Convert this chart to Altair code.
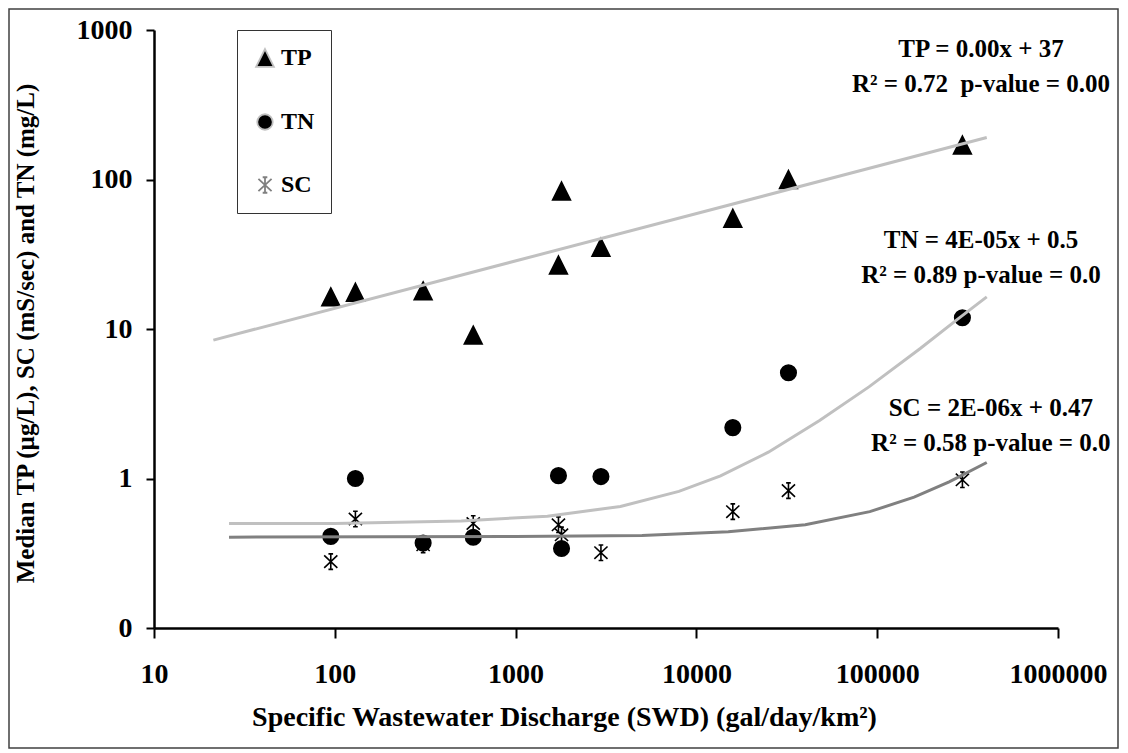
import altair as alt
import pandas as pd

# ---- data ----
series = ["TP", "TN", "SC"]
swd = [95, 130, 308, 583, 1726, 1795, 2965, 15900, 32300, 296000]
tp = [16.4, 17.6, 18.0, 9.1, 26.8, 83.8, 35.2, 55, 100, 170]
tn = [0.41, 1.0, 0.37, 0.405, 1.045, 0.34, 1.03, 2.19, 5.1, 11.9]
sc = [0.278, 0.536, 0.36, 0.50, 0.49, 0.42, 0.319, 0.60, 0.83, 0.98]

# trend lines
tp_fit_x = [21.3, 403600]
tp_fit_y = [8.43, 191]
tn_fit_x = [26, 100, 500, 1500, 3800, 8000, 13600, 25000, 48000, 90000, 173000, 280000, 403600]
tn_fit_y = [0.50, 0.50, 0.52, 0.56, 0.65, 0.82, 1.04, 1.5, 2.44, 4.1, 7.4, 11.7, 16.4]
sc_fit_x = [26, 1000, 5000, 15000, 40000, 91000, 160000, 250000, 403600]
sc_fit_y = [0.405, 0.41, 0.415, 0.44, 0.49, 0.60, 0.75, 0.95, 1.28]

notes = [
    "TP = 0.00x + 37\nR\u00b2 = 0.72\u00a0\u00a0p-value = 0.00",
    "TN = 4E-05x + 0.5\nR\u00b2 = 0.89 p-value = 0.0",
    "SC = 2E-06x + 0.47\nR\u00b2 = 0.58 p-value = 0.0",
]
note_x = [375000, 375000, 425000]
note_y = [747, 39.4, 2.97]

x_ticks = [10, 100, 1000, 10000, 100000, 1000000]
y_ticks = [0.1, 1, 10, 100, 1000]

# ---- tables ----
pts = pd.DataFrame({
    "swd": swd * 3,
    "val": tp + tn + sc,
    "series": ["TP"] * len(tp) + ["TN"] * len(tn) + ["SC"] * len(sc),
})
fits = pd.DataFrame({
    "swd": tp_fit_x + tn_fit_x + sc_fit_x,
    "val": tp_fit_y + tn_fit_y + sc_fit_y,
    "series": ["TP"] * len(tp_fit_x) + ["TN"] * len(tn_fit_x) + ["SC"] * len(sc_fit_x),
})
ann = pd.DataFrame({"swd": note_x, "val": note_y, "txt": notes})

FONT = "Liberation Serif"
TRI = "M0,-1.15L1.15,1.15L-1.15,1.15Z"
STAR = "M0,-1L0,1M-0.85,-0.8L0.85,0.8M-0.85,0.8L0.85,-0.8M-0.3,-1L0.3,-1M-0.3,1L0.3,1"

xscale = alt.Scale(type="log", domain=[10, 1000000], nice=False)
yscale = alt.Scale(type="log", domain=[0.1, 1000], nice=False)

x_enc = alt.X("swd:Q", scale=xscale, axis=alt.Axis(
    values=x_ticks, format="d", grid=False,
    title="Specific Wastewater Discharge (SWD) (gal/day/km\u00b2)",
    titleX=410, titleY=89, titleBaseline="middle", titleAlign="center", titleFontSize=28,
    labelPadding=22, tickSize=10, labelFlush=False, labelOverlap=False,
))
y_enc = alt.Y("val:Q", scale=yscale, axis=alt.Axis(
    values=y_ticks, format="d", grid=False,
    title="Median TP (\u00b5g/L), SC (mS/sec) and TN (mg/L)",
    titleX=-129, titleY=303, titleAngle=270, titleBaseline="middle", titleAlign="center",
    titleFontSize=25,
    labelPadding=14, tickSize=8, labelFlush=False, labelOverlap=False,
))

frame = alt.Chart(pd.DataFrame({"k": [0]})).mark_rect(
    fill="transparent", stroke="#404040", strokeWidth=1.5
).encode(x=alt.value(-145), x2=alt.value(964), y=alt.value(-21), y2=alt.value(718))

points = alt.Chart(pts).mark_point(
    filled=True, fill="black", stroke="black", strokeWidth=1.6, opacity=1, size=240
).encode(
    x=x_enc, y=y_enc,
    shape=alt.Shape("series:N", scale=alt.Scale(domain=series, range=[TRI, "circle", STAR]),
                    legend=alt.Legend(
                        title=None, orient="none", legendX=83, legendY=0,
                        strokeColor="#333333", padding=16, rowPadding=39,
                        labelFont=FONT, labelFontSize=24, labelFontWeight="bold",
                        labelColor="black", labelOffset=4,
                        symbolSize=240, symbolStrokeWidth=1.8, symbolOpacity=1,
                        symbolFillColor="black", symbolStrokeColor="black",
                    )),
)

lines = alt.Chart(fits).mark_line(strokeWidth=3).encode(
    x="swd:Q", y="val:Q",
    color=alt.Color("series:N", scale=alt.Scale(domain=series, range=["#c0c0c0", "#c0c0c0", "#808080"]),
                    legend=None),
    detail="series:N",
)

texts = alt.Chart(ann).mark_text(
    lineBreak="\n", align="center", baseline="middle", font=FONT, fontWeight="bold",
    fontSize=25, lineHeight=35, color="black"
).encode(x="swd:Q", y="val:Q", text="txt:N")

chart = alt.layer(frame, points, lines, texts).properties(
    width=904, height=598,
    autosize=alt.AutoSizeParams(type="none"),
    padding={"left": 146, "top": 22, "right": 62, "bottom": 122},
    background="white",
).configure_view(stroke=None).configure_axis(
    domainColor="black", domainWidth=2.5, tickColor="black", tickWidth=2,
    labelFont=FONT, labelFontSize=28, labelFontWeight="bold", labelColor="black",
    titleFont=FONT, titleFontSize=27, titleFontWeight="bold", titleColor="black",
)

chart.save("out.html", embed_options={"renderer": "svg", "actions": False})
